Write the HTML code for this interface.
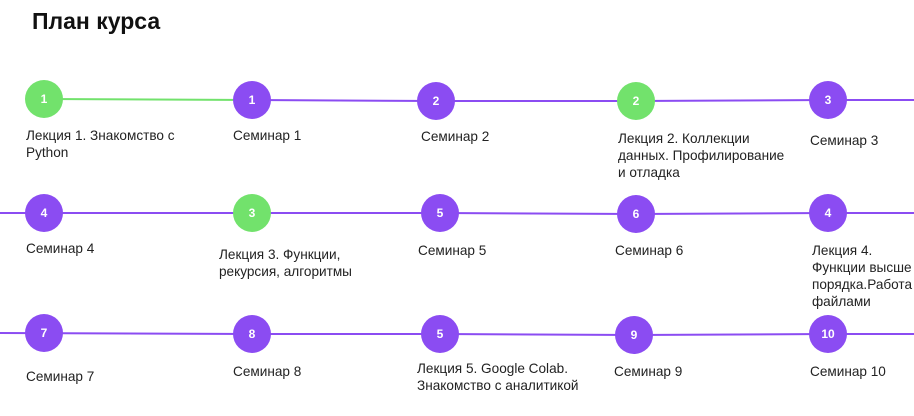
<!DOCTYPE html>
<html><head><meta charset="utf-8"><style>
body{margin:0;width:914px;height:416px;background:#fff;position:relative;overflow:hidden;font-family:"Liberation Sans",sans-serif;color:#222}
.t{position:absolute;left:32px;top:8px;font-size:23px;font-weight:bold;color:#111}
.c{position:absolute;width:38px;height:38px;border-radius:50%;background:#8b4cf2;color:#fff;font-weight:bold;font-size:12px;text-align:center;line-height:38px}
.g{background:#72e26c}
.l{position:absolute;font-size:13.6px;line-height:17px}
svg{position:absolute;left:0;top:0}
</style></head><body>
<div class="t">План курса</div>
<svg width="914" height="416">
<line x1="44" y1="99" x2="252" y2="100" stroke="#72e26c" stroke-width="2"/>
<polyline points="252,100 436,101 636,101 828,100 914,100" fill="none" stroke="#8b4cf2" stroke-width="2"/>
<polyline points="0,213 252,213 440,213 636,214 828,213 914,213" fill="none" stroke="#8b4cf2" stroke-width="2"/>
<polyline points="0,333 252,334 440,334 634,335 828,334 914,334" fill="none" stroke="#8b4cf2" stroke-width="2"/>
</svg>
<div class="c g" style="left:25px;top:80px">1</div>
<div class="c" style="left:233px;top:81px">1</div>
<div class="c" style="left:417px;top:82px">2</div>
<div class="c g" style="left:617px;top:82px">2</div>
<div class="c" style="left:809px;top:81px">3</div>
<div class="c" style="left:25px;top:194px">4</div>
<div class="c g" style="left:233px;top:194px">3</div>
<div class="c" style="left:421px;top:194px">5</div>
<div class="c" style="left:617px;top:195px">6</div>
<div class="c" style="left:809px;top:194px">4</div>
<div class="c" style="left:25px;top:314px">7</div>
<div class="c" style="left:233px;top:315px">8</div>
<div class="c" style="left:421px;top:315px">5</div>
<div class="c" style="left:615px;top:316px">9</div>
<div class="c" style="left:809px;top:315px">10</div>
<div class="l" style="left:26px;top:127px">Лекция 1. Знакомство с<br>Python</div>
<div class="l" style="left:233px;top:127px">Семинар 1</div>
<div class="l" style="left:421px;top:128px">Семинар 2</div>
<div class="l" style="left:618px;top:130px">Лекция 2. Коллекции<br>данных. Профилирование<br>и отладка</div>
<div class="l" style="left:810px;top:132px">Семинар 3</div>
<div class="l" style="left:26px;top:240px">Семинар 4</div>
<div class="l" style="left:219px;top:246px">Лекция 3. Функции,<br>рекурсия, алгоритмы</div>
<div class="l" style="left:418px;top:242px">Семинар 5</div>
<div class="l" style="left:615px;top:242px">Семинар 6</div>
<div class="l" style="left:812px;top:242px;white-space:nowrap">Лекция 4.<br>Функции высше<br>порядка.Работа<br>файлами</div>
<div class="l" style="left:26px;top:368px">Семинар 7</div>
<div class="l" style="left:233px;top:363px">Семинар 8</div>
<div class="l" style="left:417px;top:360px">Лекция 5. Google Colab.<br>Знакомство с аналитикой</div>
<div class="l" style="left:614px;top:363px">Семинар 9</div>
<div class="l" style="left:810px;top:363px">Семинар 10</div>
</body></html>
